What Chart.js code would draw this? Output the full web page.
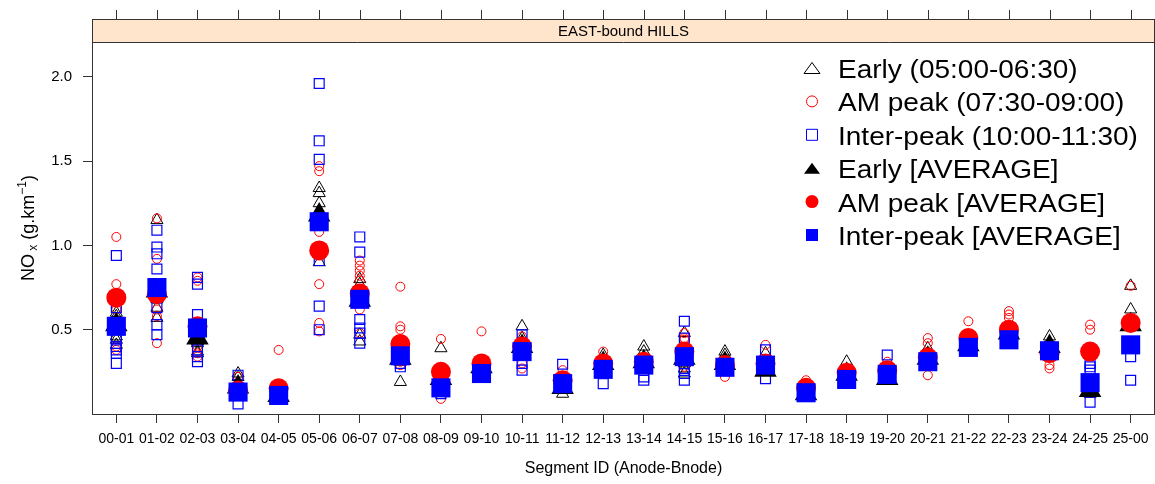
<!DOCTYPE html>
<html>
<head>
<meta charset="utf-8">
<script src="https://cdn.jsdelivr.net/npm/chart.js@4.4.1/dist/chart.umd.min.js"></script>
<style>
  html, body { margin: 0; padding: 0; background: #fff; overflow: hidden; }
</style>
</head>
<body>
<canvas id="chart" width="1155" height="484"></canvas>
<script>
// Segments on the x axis
const categories = ['00-01','01-02','02-03','03-04','04-05','05-06','06-07','07-08','08-09','09-10',
  '10-11','11-12','12-13','13-14','14-15','15-16','16-17','17-18','18-19','19-20',
  '20-21','21-22','22-23','23-24','24-25','25-00'];

// Individual runs, one list per segment (g/km)
const earlyPts = [
  [0.60, 0.58, 0.46, 0.44, 0.41], [1.15, 0.68, 0.63, 0.57], [0.43, 0.42, 0.37, 0.36], [0.24, 0.22], [0.12],
  [1.34, 1.31, 1.25, 0.90], [0.80, 0.77, 0.47, 0.43], [0.31, 0.19], [0.39], [0.28],
  [0.52, 0.45], [0.12], [0.35], [0.40, 0.37], [0.48, 0.30, 0.27, 0.24],
  [0.37, 0.35], [0.36], [0.12], [0.31], [0.22],
  [0.39], [0.42], [0.47], [0.46], [0.12], [0.76, 0.62]
];
const amPts = [
  [1.05, 0.77, 0.62, 0.40, 0.38], [1.16, 0.92, 0.62, 0.58, 0.42], [0.81, 0.79, 0.40, 0.36, 0.34], [0.22], [0.38],
  [1.47, 1.44, 1.08, 0.77, 0.54, 0.49], [0.91, 0.88, 0.85, 0.82, 0.79, 0.62, 0.48], [0.755, 0.52, 0.50, 0.31, 0.29], [0.445, 0.09], [0.49],
  [0.46, 0.30, 0.27], [0.26], [0.37], [0.33], [0.48, 0.45, 0.44, 0.28],
  [0.22], [0.41], [0.20], [0.27], [0.31],
  [0.45, 0.42, 0.23], [0.55], [0.61, 0.59, 0.57], [0.29, 0.27], [0.53, 0.50], [0.76]
];
const interPts = [
  [0.94, 0.63, 0.45, 0.40, 0.38, 0.36, 0.30], [1.09, 0.99, 0.95, 0.86, 0.63, 0.53, 0.47], [0.81, 0.77, 0.59, 0.38, 0.34, 0.31], [0.23, 0.06], [],
  [1.96, 1.62, 1.51, 0.91, 0.64, 0.50], [1.05, 0.96, 0.56, 0.51, 0.48, 0.42], [0.30, 0.28], [0.12], [],
  [0.47, 0.30, 0.26], [0.295], [0.18], [0.22, 0.20], [0.55, 0.45, 0.27, 0.24, 0.20],
  [], [0.38, 0.21], [], [], [0.35],
  [], [], [], [0.40], [0.30, 0.28, 0.26, 0.07], [0.34, 0.20]
];

// Averages per segment
const earlyAvg = [0.53, 0.73, 0.45, 0.16, 0.11, 1.18, 0.675, 0.33, 0.21, 0.28,
  0.40, 0.157, 0.30, 0.31, 0.33, 0.30, 0.26, 0.12, 0.235, 0.21,
  0.33, 0.41, 0.48, 0.40, 0.14, 0.53];
const amAvg = [0.69, 0.71, 0.52, 0.14, 0.152, 0.97, 0.715, 0.415, 0.25, 0.30,
  0.40, 0.20, 0.30, 0.31, 0.37, 0.29, 0.30, 0.155, 0.245, 0.26,
  0.335, 0.45, 0.50, 0.36, 0.37, 0.54];
const interAvg = [0.52, 0.75, 0.51, 0.13, 0.11, 1.14, 0.68, 0.345, 0.155, 0.24,
  0.37, 0.18, 0.265, 0.29, 0.34, 0.277, 0.29, 0.126, 0.205, 0.235,
  0.31, 0.395, 0.44, 0.375, 0.186, 0.41];

const yTicks = [0.5, 1.0, 1.5, 2.0];

const legendItems = [
  { label: 'Early (05:00-06:30)', shape: 'triangle', color: '#000', filled: false },
  { label: 'AM peak (07:30-09:00)', shape: 'circle', color: '#f00', filled: false },
  { label: 'Inter-peak (10:00-11:30)', shape: 'rect', color: '#00f', filled: false },
  { label: 'Early [AVERAGE]', shape: 'triangle', color: '#000', filled: true },
  { label: 'AM peak [AVERAGE]', shape: 'circle', color: '#f00', filled: true },
  { label: 'Inter-peak [AVERAGE]', shape: 'rect', color: '#00f', filled: true }
];

function indiv(pts){
  const out = [];
  pts.forEach((vals, i) => vals.forEach(v => out.push({x: i, y: v})));
  return out;
}
function avg(vals){
  return vals.map((v, i) => ({x: i, y: v}));
}

const STRIP_TOP = 19;
const FONT = 'Arial, "Liberation Sans"';

function shape(ctx, kind, x, y, w, h, color, filled){
  ctx.beginPath();
  if(kind === 'triangle'){
    ctx.moveTo(x, y - h/2);
    ctx.lineTo(x + w/2, y + h/2);
    ctx.lineTo(x - w/2, y + h/2);
    ctx.closePath();
  } else if(kind === 'circle'){
    ctx.arc(x, y, w/2, 0, Math.PI*2);
  } else {
    ctx.rect(x - w/2, y - h/2, w, h);
  }
  if(filled){ ctx.fillStyle = color; ctx.fill(); }
  else { ctx.strokeStyle = color; ctx.lineWidth = 1; ctx.stroke(); }
}

// strip, box, top ticks, y title, legend
const decor = {
  id: 'decor',
  afterDraw(chart){
    const ctx = chart.ctx, a = chart.chartArea, xs = chart.scales.x;
    ctx.save();

    ctx.fillStyle = '#FFE5CC';
    ctx.fillRect(a.left, STRIP_TOP, a.right - a.left, a.top - STRIP_TOP);
    ctx.strokeStyle = '#333';
    ctx.lineWidth = 1;
    ctx.strokeRect(a.left + 0.5, STRIP_TOP + 0.5, a.right - a.left - 1, a.bottom - STRIP_TOP);
    ctx.beginPath();
    ctx.moveTo(a.left, a.top + 0.5);
    ctx.lineTo(a.right, a.top + 0.5);
    ctx.stroke();

    // top ticks
    ctx.beginPath();
    categories.forEach((c, i) => {
      const px = Math.round(xs.getPixelForValue(i)) + 0.5;
      ctx.moveTo(px, STRIP_TOP - 9);
      ctx.lineTo(px, STRIP_TOP);
    });
    ctx.stroke();

    ctx.fillStyle = '#000';
    ctx.font = '15px ' + FONT;
    ctx.textAlign = 'center';
    ctx.textBaseline = 'middle';
    ctx.fillText('EAST-bound HILLS', (a.left + a.right) / 2, (STRIP_TOP + a.top) / 2 + 1);

    // y title with sub/superscript
    ctx.save();
    ctx.translate(28, (a.top + a.bottom) / 2);
    ctx.rotate(-Math.PI / 2);
    const parts = [
      { t: 'NO', f: 18, dy: 0 },
      { t: ' x', f: 12, dy: 3 },
      { t: ' (g.km', f: 18, dy: 0 },
      { t: '\u22121', f: 12, dy: -8 },
      { t: ')', f: 18, dy: 0 }
    ];
    let total = 0;
    parts.forEach(p => { ctx.font = p.f + 'px ' + FONT; p.w = ctx.measureText(p.t).width; total += p.w; });
    let cx = -total / 2;
    ctx.textAlign = 'left';
    ctx.textBaseline = 'alphabetic';
    parts.forEach(p => {
      ctx.font = p.f + 'px ' + FONT;
      ctx.fillText(p.t, cx, 6 + p.dy);
      cx += p.w;
    });
    ctx.restore();

    // legend
    legendItems.forEach((it, k) => {
      const base = 78 + k * 33.4;
      const sy = base - 10;
      if(it.shape === 'triangle') shape(ctx, 'triangle', 812, sy, 16, 11, it.color, it.filled);
      else if(it.shape === 'circle') shape(ctx, 'circle', 812, sy, it.filled ? 13 : 11, 0, it.color, it.filled);
      else shape(ctx, 'rect', 812, sy, it.filled ? 12 : 11, it.filled ? 12 : 11, it.color, it.filled);
      ctx.save();
      ctx.translate(838, base);
      ctx.scale(1.12, 1);
      ctx.font = '25px ' + FONT;
      ctx.fillStyle = '#000';
      ctx.textAlign = 'left';
      ctx.textBaseline = 'alphabetic';
      ctx.fillText(it.label, 0, 0);
      ctx.restore();
    });

    ctx.restore();
  }
};

new Chart(document.getElementById('chart'), {
  type: 'scatter',
  data: {
    datasets: [
      { label: 'Early', data: indiv(earlyPts), pointStyle: 'triangle', pointRadius: 7, borderColor: '#000', backgroundColor: 'rgba(0,0,0,0)', borderWidth: 1, order: 6 },
      { label: 'AM peak', data: indiv(amPts), pointStyle: 'circle', pointRadius: 4.5, borderColor: '#f00', backgroundColor: 'rgba(0,0,0,0)', borderWidth: 1, order: 5 },
      { label: 'Inter-peak', data: indiv(interPts), pointStyle: 'rect', pointRadius: 7, borderColor: '#00f', backgroundColor: 'rgba(0,0,0,0)', borderWidth: 1.2, order: 4 },
      { label: 'Early avg', data: avg(earlyAvg), pointStyle: 'triangle', pointRadius: 13, borderColor: '#000', backgroundColor: '#000', borderWidth: 0, order: 3 },
      { label: 'AM avg', data: avg(amAvg), pointStyle: 'circle', pointRadius: 10, borderColor: '#f00', backgroundColor: '#f00', borderWidth: 0, order: 2 },
      { label: 'Inter avg', data: avg(interAvg), pointStyle: 'rect', pointRadius: 13.5, borderColor: '#00f', backgroundColor: '#00f', borderWidth: 0, order: 1 }
    ]
  },
  options: {
    responsive: false,
    animation: false,
    events: [],
    layout: { autoPadding: false, padding: { left: 0, top: 42, right: -3, bottom: 0 } },
    plugins: { legend: { display: false }, tooltip: { enabled: false } },
    scales: {
      x: {
        type: 'linear',
        min: -0.6,
        max: 25.6,
        afterBuildTicks: s => { s.ticks = categories.map((c, i) => ({ value: i })); },
        afterFit: s => { s.height = 70; s.paddingLeft = 0; s.paddingRight = 0; },
        ticks: {
          callback: v => categories[v],
          autoSkip: false, maxRotation: 0, minRotation: 0,
          font: { family: FONT, size: 14 },
          color: '#000', padding: 8
        },
        grid: { drawOnChartArea: false, drawTicks: true, tickLength: 9, color: '#333', tickColor: '#333' },
        border: { display: true, color: '#333', width: 1 },
        title: {
          display: true, text: 'Segment ID (Anode-Bnode)',
          font: { family: FONT, size: 16 },
          color: '#000', padding: { top: 6, bottom: 6 }
        }
      },
      y: {
        min: 0,
        max: 2.206,
        afterBuildTicks: s => { s.ticks = yTicks.map(v => ({ value: v })); },
        afterFit: s => { s.width = 92; s.paddingTop = 0; s.paddingBottom = 0; },
        ticks: {
          callback: v => v.toFixed(1),
          font: { family: FONT, size: 15 },
          color: '#000', padding: 11
        },
        grid: { drawOnChartArea: false, drawTicks: true, tickLength: 9, color: '#333', tickColor: '#333' },
        border: { display: true, color: '#333', width: 1 }
      }
    }
  },
  plugins: [decor]
});
</script>
</body>
</html>
